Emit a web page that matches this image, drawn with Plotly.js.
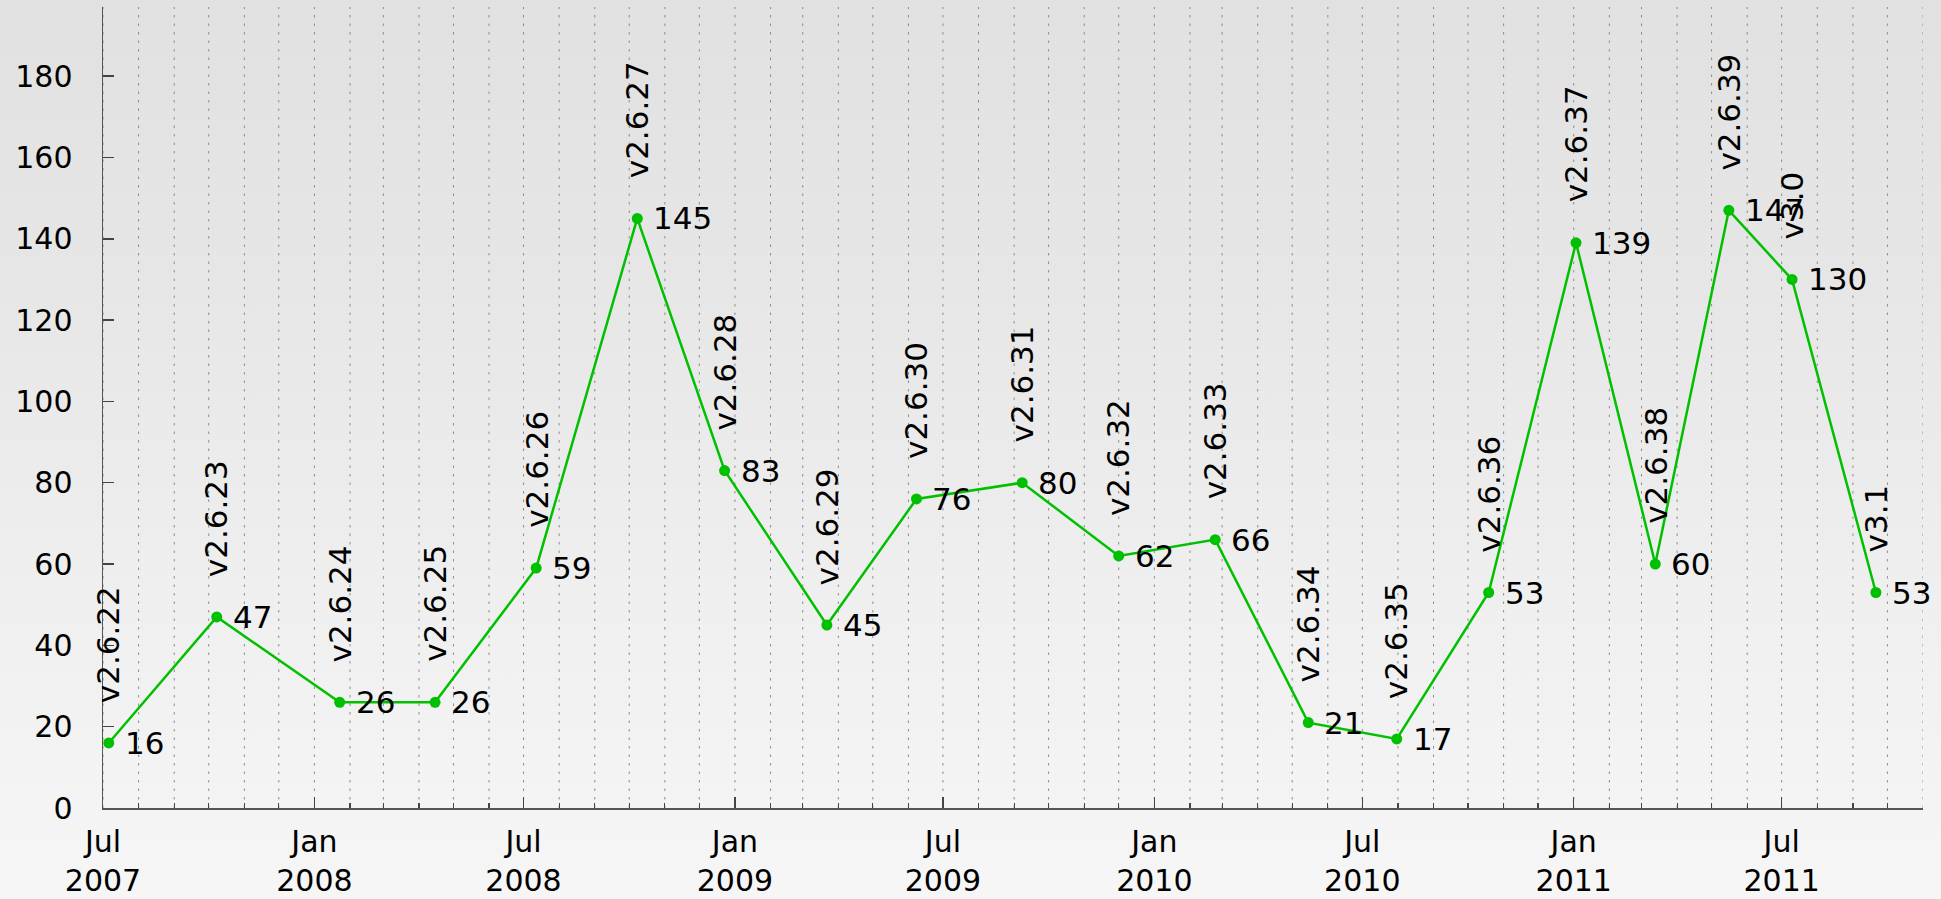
<!DOCTYPE html>
<html>
<head>
<meta charset="utf-8">
<script src="https://cdn.plot.ly/plotly-3.0.1.min.js"></script>
<style>
  html, body { margin: 0; padding: 0; overflow: hidden; }
  body { width: 1941px; height: 899px; background: linear-gradient(to bottom, #e1e1e1 0%, #e6e6e6 30%, #f0f0f0 70%, #f6f6f6 100%); }
  #chart { width: 1941px; height: 899px; }
</style>
</head>
<body>
<div id="chart"></div>
<script>
const releaseDates = ["2007-07-06","2007-10-08","2008-01-23","2008-04-15","2008-07-12","2008-10-08","2008-12-23","2009-03-22","2009-06-08","2009-09-08","2009-12-01","2010-02-23","2010-05-15","2010-07-31","2010-10-19","2011-01-03","2011-03-13","2011-05-16","2011-07-10","2011-09-21"];
const versions = ["v2.6.22","v2.6.23","v2.6.24","v2.6.25","v2.6.26","v2.6.27","v2.6.28","v2.6.29","v2.6.30","v2.6.31","v2.6.32","v2.6.33","v2.6.34","v2.6.35","v2.6.36","v2.6.37","v2.6.38","v2.6.39","v3.0","v3.1"];
const counts = [16,47,26,26,59,145,83,45,76,80,62,66,21,17,53,139,60,147,130,53];
const yTicks = [0,20,40,60,80,100,120,140,160,180];
const xStart = "2007-07-01";
const xEnd = "2011-11-01";

// monthly minor ticks / gridlines
const monthTicks = [];
for (let y = 2007, m = 7; ; m++) {
  if (m > 12) { m = 1; y++; }
  if (y > 2011 || (y === 2011 && m > 11)) break;
  monthTicks.push(y + "-" + String(m).padStart(2, "0") + "-01");
}

const FONT = "DejaVu Sans, Verdana, sans-serif";
const FS = 31;
const TFS = 30;
const green = "#00c000";
const gridDash = "2.5px,6px";

const trace = {
  x: releaseDates, y: counts, type: "scatter", mode: "lines+markers",
  line: {color: green, width: 2.5},
  marker: {color: green, size: 11, symbol: "circle"},
  hoverinfo: "skip"
};
// empty trace that carries the year-label axis
const yearAxisTrace = {x: [], y: [], xaxis: "x2", yaxis: "y", type: "scatter", mode: "markers", hoverinfo: "skip", showlegend: false};

const annotations = [];
for (let i = 0; i < counts.length; i++) {
  annotations.push({x: releaseDates[i], y: counts[i], xref: "x", yref: "y", text: String(counts[i]),
    showarrow: false, xanchor: "left", yanchor: "middle", xshift: 14, yshift: 0,
    font: {family: FONT, size: FS, color: "#000"}});
  annotations.push({x: releaseDates[i], y: counts[i], xref: "x", yref: "y", text: versions[i],
    showarrow: false, textangle: -90, xanchor: "center", yanchor: "bottom", yshift: 38,
    font: {family: FONT, size: FS, color: "#000"}});
}

const shapes = monthTicks.map(d => ({
  type: "line", xref: "x", yref: "paper", x0: d, x1: d, y0: 0, y1: 1, layer: "below",
  line: {color: "#8c8c8c", width: 1, dash: gridDash}
}));

const layout = {
  width: 1941, height: 899,
  paper_bgcolor: "rgba(0,0,0,0)", plot_bgcolor: "rgba(0,0,0,0)",
  margin: {l: 103, r: 18, t: 7, b: 91},
  showlegend: false,
  font: {family: FONT, size: TFS, color: "#000"},
  xaxis: {
    type: "date", range: [xStart, xEnd],
    tick0: xStart, dtick: "M6", tickformat: "%b",
    ticks: "inside", ticklen: 11, tickwidth: 1.5, tickcolor: "#444",
    showline: true, linecolor: "#555", linewidth: 1.5,
    showgrid: false,
    minor: {tickmode: "array", tickvals: monthTicks, ticks: "inside", ticklen: 5, tickcolor: "#444", tickwidth: 1.2, showgrid: false},
    zeroline: false, ticklabelstandoff: 6,
    tickfont: {family: FONT, size: TFS, color: "#000"}
  },
  xaxis2: {
    type: "date", range: [xStart, xEnd], overlaying: "x", anchor: "y", side: "bottom",
    tick0: xStart, dtick: "M6", tickformat: "%Y",
    ticks: "", showline: false, showgrid: false, zeroline: false,
    ticklabelstandoff: 52,
    tickfont: {family: FONT, size: TFS, color: "#000"}
  },
  yaxis: {
    range: [0, 197], tickvals: yTicks, ticktext: yTicks.map(String),
    ticks: "inside", ticklen: 11, tickwidth: 1.5, tickcolor: "#444",
    showline: true, linecolor: "#555", linewidth: 1.5,
    showgrid: false, zeroline: false, ticklabelstandoff: 23,
    tickfont: {family: FONT, size: TFS, color: "#000"}
  },
  shapes: shapes,
  annotations: annotations
};

Plotly.newPlot("chart", [trace, yearAxisTrace], layout, {staticPlot: true, displayModeBar: false});
</script>
</body>
</html>
